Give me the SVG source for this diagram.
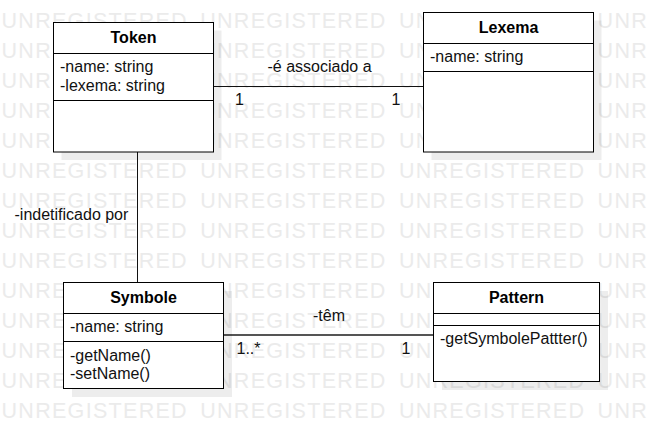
<svg xmlns="http://www.w3.org/2000/svg" width="648" height="438" viewBox="0 0 648 438">
<style>
.wm{font-family:"Liberation Sans",Arial,sans-serif;font-size:21.5px;letter-spacing:1.3px;word-spacing:5px;fill:#ebebeb}
.shadow{fill:#000;fill-opacity:0.07}
.box{fill:#fff;stroke:#000;stroke-width:1}
.div{stroke:#000;stroke-width:1;fill:none}
.t{font-family:"Liberation Sans",Arial,sans-serif;font-size:16px;fill:#111}
.title{font-weight:bold;text-anchor:middle;fill:#000}
.mid{text-anchor:middle}
.conn{stroke:#111;stroke-width:1;fill:none}
.conn2{stroke:#555;stroke-width:2;fill:none}
</style>
<rect width="648" height="438" fill="#fff"/>
<g id="watermark" class="wm">
<text x="1.5" y="28">UNREGISTERED UNREGISTERED UNREGISTERED UNREGISTERED</text>
<text x="1.5" y="58">UNREGISTERED UNREGISTERED UNREGISTERED UNREGISTERED</text>
<text x="1.5" y="88">UNREGISTERED UNREGISTERED UNREGISTERED UNREGISTERED</text>
<text x="1.5" y="118">UNREGISTERED UNREGISTERED UNREGISTERED UNREGISTERED</text>
<text x="1.5" y="148">UNREGISTERED UNREGISTERED UNREGISTERED UNREGISTERED</text>
<text x="1.5" y="178">UNREGISTERED UNREGISTERED UNREGISTERED UNREGISTERED</text>
<text x="1.5" y="208">UNREGISTERED UNREGISTERED UNREGISTERED UNREGISTERED</text>
<text x="1.5" y="238">UNREGISTERED UNREGISTERED UNREGISTERED UNREGISTERED</text>
<text x="1.5" y="268">UNREGISTERED UNREGISTERED UNREGISTERED UNREGISTERED</text>
<text x="1.5" y="298">UNREGISTERED UNREGISTERED UNREGISTERED UNREGISTERED</text>
<text x="1.5" y="328">UNREGISTERED UNREGISTERED UNREGISTERED UNREGISTERED</text>
<text x="1.5" y="358">UNREGISTERED UNREGISTERED UNREGISTERED UNREGISTERED</text>
<text x="1.5" y="388">UNREGISTERED UNREGISTERED UNREGISTERED UNREGISTERED</text>
<text x="1.5" y="418">UNREGISTERED UNREGISTERED UNREGISTERED UNREGISTERED</text>
</g>
<g id="connectors">
<g id="token-lexema">
<path class="conn" d="M213.5 86.5H423.5"/>
<text class="t mid" x="319.5" y="72">-é associado a</text>
<text class="t" x="235" y="105">1</text>
<text class="t" x="391.5" y="105">1</text>
</g>
<g id="token-symbole">
<path class="conn" d="M137.5 152V282.5"/>
<text class="t" x="14.5" y="220">-indetificado por</text>
</g>
<g id="symbole-pattern">
<path class="conn2" d="M223.5 335H433.5"/>
<text class="t mid" x="329" y="320.5">-têm</text>
<text class="t" x="236.5" y="354">1..*</text>
<text class="t" x="401.5" y="354">1</text>
</g>
</g>
<g id="Token">
<rect class="shadow" x="61.5" y="30.5" width="160" height="129.5"/>
<rect class="box" x="53.5" y="22.5" width="160" height="129.5"/>
<path class="div" d="M53.5 53.5H213.5M53.5 100.5H213.5"/>
<text class="t title" x="133.5" y="43">Token</text>
<text class="t" x="60" y="72">-name: string</text>
<text class="t" x="60" y="91">-lexema: string</text>
</g>
<g id="Lexema">
<rect class="shadow" x="431.5" y="20.5" width="170" height="139.5"/>
<rect class="box" x="423.5" y="12.5" width="170" height="139.5"/>
<path class="div" d="M423.5 43.5H593.5M423.5 71.5H593.5"/>
<text class="t title" x="508.5" y="32.5">Lexema</text>
<text class="t" x="430" y="62">-name: string</text>
</g>
<g id="Symbole">
<rect class="shadow" x="72" y="291" width="160" height="106"/>
<rect class="box" x="63.5" y="282.5" width="160" height="106"/>
<path class="div" d="M63.5 313.5H223.5M63.5 341.5H223.5"/>
<text class="t title" x="143.5" y="302.5">Symbole</text>
<text class="t" x="70" y="332">-name: string</text>
<text class="t" x="70" y="360.5">-getName()</text>
<text class="t" x="70" y="378.5">-setName()</text>
</g>
<g id="Pattern">
<rect class="shadow" x="442" y="291" width="166" height="99"/>
<rect class="box" x="433.5" y="282.5" width="166" height="99"/>
<path class="div" d="M433.5 313.5H599.5M433.5 325.5H599.5"/>
<text class="t title" x="516.5" y="302.5">Pattern</text>
<text class="t" x="440" y="344">-getSymbolePattter()</text>
</g>
</svg>
